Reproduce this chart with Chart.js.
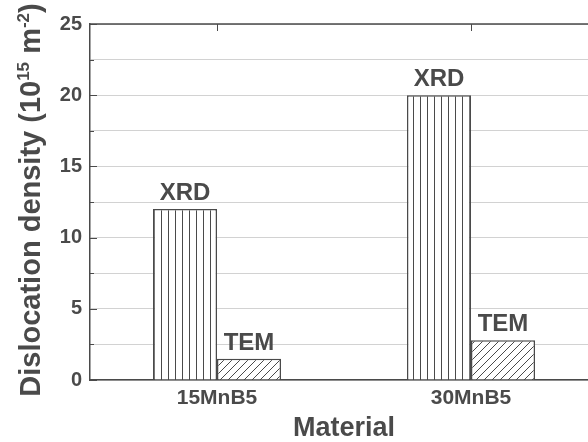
<!DOCTYPE html>
<html>
<head>
<meta charset="utf-8">
<script src="https://cdn.jsdelivr.net/npm/chart.js@4"></script>
<style>
  html, body { margin: 0; padding: 0; background: #fff; overflow: hidden; }
  #wrap { width: 598px; height: 442px; }
</style>
</head>
<body>
<div id="wrap"><canvas id="chart"></canvas></div>
<script>
const materials = ['15MnB5', '30MnB5'];
const xrdValues = [12.0, 20.0];
const temValues = [1.5, 2.8];
const seriesNames = ['XRD', 'TEM'];

const ink = '#4a4a4a';
const fontFamily = '"Liberation Sans", Arial, sans-serif';

function makePattern(kind) {
    const c = document.createElement('canvas');
    const size = kind === 'vertical' ? 7 : 8;
    c.width = size;
    c.height = size;
    const g = c.getContext('2d');
    g.fillStyle = '#fff';
    g.fillRect(0, 0, size, size);
    g.strokeStyle = ink;
    g.lineWidth = 1;
    g.beginPath();
    if (kind === 'vertical') {
        g.moveTo(0.5, 0);
        g.lineTo(0.5, size);
    } else {
        g.moveTo(0, size);
        g.lineTo(size, 0);
        g.moveTo(-1, 1);
        g.lineTo(1, -1);
        g.moveTo(size - 1, size + 1);
        g.lineTo(size + 1, size - 1);
    }
    g.stroke();
    return g.createPattern(c, 'repeat');
}

const decorations = {
    id: 'decorations',
    afterDatasetsDraw(chart) {
        const { ctx, chartArea } = chart;
        ctx.save();
        // bar labels
        ctx.fillStyle = ink;
        ctx.font = 'bold 24px ' + fontFamily;
        ctx.textAlign = 'center';
        ctx.textBaseline = 'alphabetic';
        chart.data.datasets.forEach((ds, i) => {
            chart.getDatasetMeta(i).data.forEach((bar) => {
                ctx.fillText(ds.label, bar.x, bar.y - 9);
            });
        });
        // frame: top line and inward ticks
        ctx.strokeStyle = ink;
        ctx.lineWidth = 1.5;
        ctx.beginPath();
        ctx.moveTo(chartArea.left, chartArea.top);
        ctx.lineTo(chartArea.right, chartArea.top);
        ctx.stroke();
        const y = chart.scales.y;
        const x = chart.scales.x;
        ctx.lineWidth = 1;
        ctx.beginPath();
        y.ticks.forEach((t) => {
            const py = Math.round(y.getPixelForValue(t.value)) + 0.5;
            const len = t.value % 5 === 0 ? 7 : 4;
            ctx.moveTo(chartArea.left, py);
            ctx.lineTo(chartArea.left + len, py);
        });
        materials.forEach((m, i) => {
            const px = Math.round(x.getPixelForValue(i)) + 0.5;
            ctx.moveTo(px, chartArea.top);
            ctx.lineTo(px, chartArea.top + 7);
        });
        ctx.stroke();
        // y-axis title with superscripts
        const parts = [
            ['Dislocation density (10', false],
            ['15', true],
            [' m', false],
            ['-2', true],
            [')', false]
        ];
        const big = 'bold 29px ' + fontFamily;
        const small = 'bold 17px ' + fontFamily;
        let total = 0;
        parts.forEach(([s, sup]) => {
            ctx.font = sup ? small : big;
            total += ctx.measureText(s).width;
        });
        ctx.translate(40, 200);
        ctx.rotate(-Math.PI / 2);
        ctx.textAlign = 'left';
        let cx = -total / 2;
        parts.forEach(([s, sup]) => {
            ctx.font = sup ? small : big;
            ctx.fillText(s, cx, sup ? -11 : 0);
            cx += ctx.measureText(s).width;
        });
        ctx.restore();
    }
};

new Chart(document.getElementById('chart').getContext('2d'), {
    type: 'bar',
    data: {
        labels: materials,
        datasets: [
            {
                label: seriesNames[0],
                data: xrdValues,
                backgroundColor: makePattern('vertical'),
                borderColor: ink,
                borderWidth: 1.5,
            },
            {
                label: seriesNames[1],
                data: temValues,
                backgroundColor: makePattern('diagonal'),
                borderColor: ink,
                borderWidth: 1.5,
            },
        ],
    },
    options: {
        animation: false,
        responsive: true,
        maintainAspectRatio: false,
        layout: { padding: { top: 24, right: 0, left: 0, bottom: 0 } },
        categoryPercentage: 0.504,
        barPercentage: 1.0,
        plugins: {
            legend: { display: false },
            tooltip: { enabled: false },
        },
        scales: {
            x: {
                afterFit(s) { s.height = 62; },
                grid: { display: false, drawTicks: false },
                border: { display: true, color: ink, width: 1.5 },
                ticks: {
                    color: ink,
                    padding: 6,
                    font: { family: fontFamily, size: 21, weight: 'bold' },
                },
                title: {
                    display: true,
                    text: 'Material',
                    color: ink,
                    padding: { top: 0, bottom: 0 },
                    font: { family: fontFamily, size: 27, weight: 'bold', lineHeight: 1 },
                },
            },
            y: {
                min: 0,
                max: 25,
                afterFit(s) { s.width = 90; },
                grid: { color: '#d2d2d2', lineWidth: 1, drawTicks: false },
                border: { display: true, color: ink, width: 1.5 },
                ticks: {
                    stepSize: 2.5,
                    autoSkip: false,
                    color: ink,
                    padding: 8,
                    font: { family: fontFamily, size: 20, weight: 'bold' },
                    callback: (v) => (v % 5 === 0 ? v : ''),
                },
            },
        },
    },
    plugins: [decorations],
});
</script>
</body>
</html>
